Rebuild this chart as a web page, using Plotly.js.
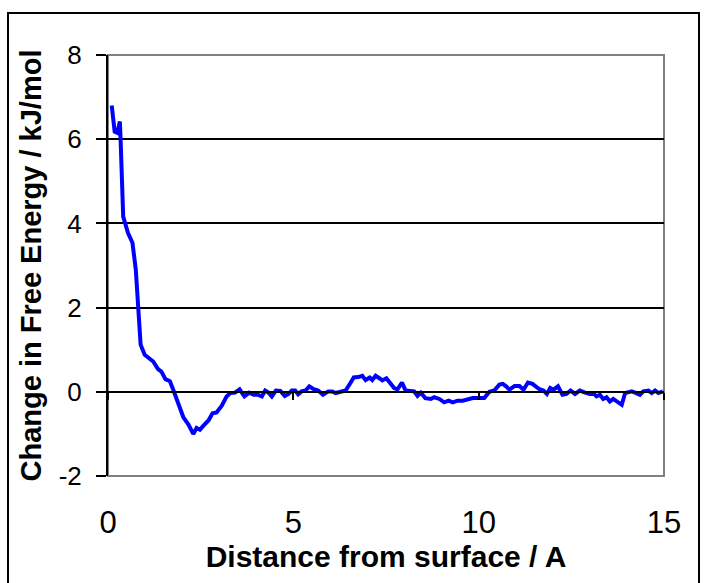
<!DOCTYPE html>
<html>
<head>
<meta charset="utf-8">
<script src="https://cdn.plot.ly/plotly-3.0.1.min.js"></script>
<style>
  html, body { margin: 0; padding: 0; background: #fff; }
  #wrap { position: relative; width: 706px; height: 583px; overflow: hidden; }
  #frame { position: absolute; left: 7px; top: 12px; width: 693px; height: 620px; border: 2px solid #000; box-sizing: border-box; pointer-events: none; z-index: 5; }
  #chart { position: absolute; left: 0; top: 0; width: 706px; height: 583px; }
</style>
</head>
<body>
<div id="wrap">
  <div id="chart"></div>
  <div id="frame"></div>
</div>
<script>
// Distance from surface (Å)
const distance = [0.10, 0.18, 0.25, 0.32, 0.34, 0.36, 0.41, 0.54, 0.66, 0.75,
  0.81, 0.84, 0.88, 0.99, 1.13, 1.22, 1.35, 1.44, 1.55, 1.67,
  1.76, 1.85, 1.94, 2.03, 2.17, 2.30, 2.39, 2.48, 2.57, 2.71,
  2.82, 2.93, 3.07, 3.20, 3.30, 3.43, 3.55, 3.68, 3.81, 3.93,
  4.04, 4.15, 4.24, 4.33, 4.42, 4.53, 4.65, 4.77, 4.87, 4.96,
  5.05, 5.13, 5.22, 5.33, 5.43, 5.55, 5.67, 5.80, 5.94, 6.05,
  6.14, 6.27, 6.41, 6.54, 6.63, 6.75, 6.86, 6.95, 7.06, 7.13,
  7.22, 7.34, 7.40, 7.51, 7.60, 7.72, 7.81, 7.93, 8.03, 8.17,
  8.26, 8.35, 8.44, 8.56, 8.71, 8.80, 8.94, 9.07, 9.19, 9.30,
  9.43, 9.57, 9.70, 9.84, 9.97, 10.15, 10.29, 10.42, 10.56, 10.65,
  10.74, 10.83, 10.97, 11.10, 11.21, 11.33, 11.45, 11.56, 11.64, 11.75,
  11.84, 11.93, 12.02, 12.14, 12.26, 12.37, 12.48, 12.60, 12.73, 12.87,
  13.00, 13.11, 13.18, 13.27, 13.36, 13.45, 13.54, 13.63, 13.74, 13.86,
  13.95, 14.04, 14.13, 14.25, 14.35, 14.44, 14.58, 14.67, 14.76, 14.85,
  14.97];
// Change in free energy (kJ/mol)
const freeEnergy = [6.80, 6.18, 6.15, 6.42, 5.99, 5.20, 4.16, 3.77, 3.54, 2.90,
  2.03, 1.43, 1.12, 0.88, 0.78, 0.72, 0.54, 0.48, 0.30, 0.25,
  0.05, -0.19, -0.43, -0.60, -0.78, -1.00, -0.86, -0.90, -0.81, -0.68,
  -0.51, -0.49, -0.33, -0.11, -0.03, -0.02, 0.06, -0.11, -0.02, -0.07,
  -0.07, -0.11, 0.03, -0.02, -0.11, 0.03, 0.02, -0.10, -0.05, 0.03,
  0.03, -0.06, 0.01, 0.03, 0.13, 0.06, 0.03, -0.07, 0.01, 0.01,
  -0.03, 0.00, 0.03, 0.21, 0.34, 0.35, 0.38, 0.28, 0.34, 0.28,
  0.38, 0.31, 0.27, 0.32, 0.21, 0.09, 0.06, 0.22, 0.03, 0.03,
  0.01, -0.10, -0.02, -0.15, -0.17, -0.13, -0.17, -0.25, -0.21, -0.25,
  -0.21, -0.21, -0.17, -0.15, -0.15, -0.15, 0.00, 0.03, 0.17, 0.19,
  0.13, 0.05, 0.14, 0.14, 0.05, 0.22, 0.19, 0.13, 0.06, 0.03,
  -0.05, 0.09, 0.05, 0.13, -0.07, -0.05, 0.03, -0.05, 0.03, -0.02,
  -0.05, -0.05, -0.11, -0.07, -0.17, -0.13, -0.23, -0.17, -0.23, -0.31,
  -0.03, -0.02, 0.01, -0.03, -0.07, 0.01, 0.03, -0.03, 0.03, -0.03,
  0.01];

const xTickVals = [0, 5, 10, 15];
const xTickText = ['0', '5', '10', '15'];
const yTickVals = [-2, 0, 2, 4, 6, 8];
const yTickText = ['-2', '0', '2', '4', '6', '8'];

const xTitle = 'Distance from surface / A';
const yTitle = 'Change in Free Energy / kJ/mol';

const FONT = 'Liberation Sans, Arial, sans-serif';

const traces = [
  {
    x: distance, y: freeEnergy, type: 'scatter', mode: 'lines',
    line: { color: '#0000FF', width: 4 },
    showlegend: false, hoverinfo: 'skip'
  },
  {
    x: [], y: [], type: 'scatter', mode: 'lines',
    xaxis: 'x2', yaxis: 'y', showlegend: false, hoverinfo: 'skip'
  }
];

const layout = {
  width: 706, height: 583,
  margin: { l: 108, r: 42, t: 55, b: 107, pad: 0 },
  paper_bgcolor: '#ffffff', plot_bgcolor: '#ffffff',
  font: { family: FONT, color: '#000' },
  showlegend: false,
  xaxis: {
    range: [0, 15], tickvals: xTickVals, ticktext: xTickText,
    showgrid: false, zeroline: false, showline: false, ticks: '',
    tickfont: { family: FONT, size: 31, color: '#000' },
    ticklabelstandoff: 25,
    title: { text: xTitle, font: { family: FONT, size: 30, color: '#000', weight: 'bold' }, standoff: 4 }
  },
  xaxis2: {
    overlaying: 'x', anchor: 'free', position: 0.2,
    range: [0, 15], tickvals: xTickVals,
    showgrid: false, zeroline: false, showline: true,
    linecolor: '#000', linewidth: 2,
    ticks: 'outside', ticklen: 7, tickwidth: 2, tickcolor: '#000',
    showticklabels: false
  },
  yaxis: {
    range: [-2, 8], tickvals: yTickVals, ticktext: yTickText,
    showgrid: true, gridcolor: '#000', gridwidth: 2,
    zeroline: true, zerolinecolor: '#000', zerolinewidth: 2,
    showline: true, linecolor: '#000', linewidth: 2,
    ticks: 'outside', ticklen: 10, tickwidth: 2, tickcolor: '#000',
    tickfont: { family: FONT, size: 26, color: '#000' },
    ticklabelstandoff: 9,
    title: { text: yTitle, font: { family: FONT, size: 29, color: '#000', weight: 'bold' }, standoff: 9 }
  },
  shapes: [
    { type: 'rect', xref: 'paper', yref: 'paper', x0: 0, x1: 1, y0: 0, y1: 1,
      line: { color: '#808080', width: 2 }, layer: 'below' }
  ]
};

Plotly.newPlot('chart', traces, layout, { displayModeBar: false, staticPlot: true });
</script>
</body>
</html>
